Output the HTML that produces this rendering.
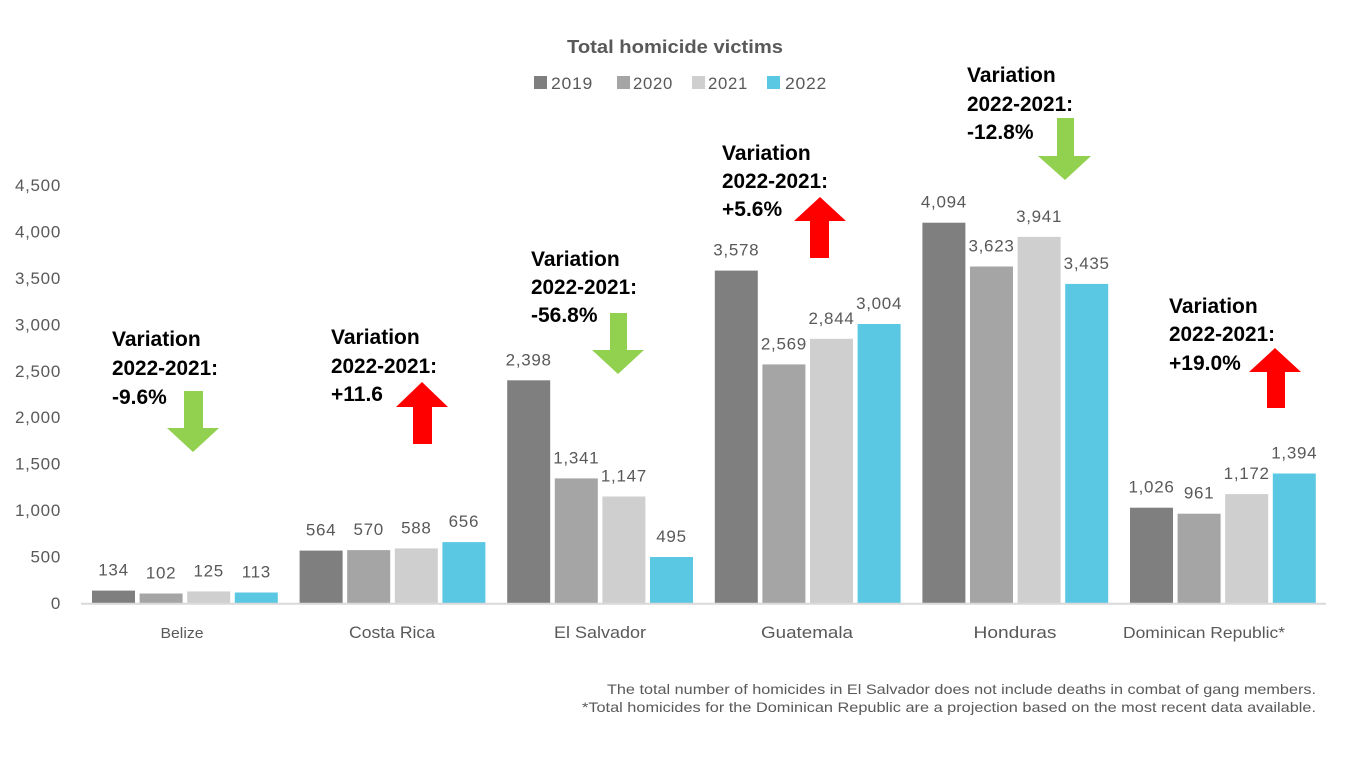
<!DOCTYPE html>
<html>
<head>
<meta charset="utf-8">
<style>
  html,body{margin:0;padding:0;background:#fff;}
  svg{display:block;}
  text{font-family:"Liberation Sans",Arial,sans-serif;}
  .lab{font-size:17px;fill:#595959;letter-spacing:0.7px;}
  .var{font-size:21px;font-weight:bold;fill:#000;}
  .cat{font-size:17px;fill:#595959;}
  .foot{font-size:14px;fill:#595959;}
</style>
</head>
<body>
<svg width="1353" height="760" viewBox="0 0 1353 760" xmlns="http://www.w3.org/2000/svg">
  <rect width="1353" height="760" fill="#fff"/>

  <!-- Title -->
  <text x="567" y="53" font-size="18" font-weight="bold" fill="#595959" textLength="216" lengthAdjust="spacingAndGlyphs">Total homicide victims</text>

  <!-- Legend -->
  <rect x="534" y="76" width="13" height="13" fill="#7f7f7f"/>
  <text x="551" y="89" class="lab" textLength="42" lengthAdjust="spacingAndGlyphs">2019</text>
  <rect x="617" y="76" width="13" height="13" fill="#a5a5a5"/>
  <text x="633" y="89" class="lab" textLength="40" lengthAdjust="spacingAndGlyphs">2020</text>
  <rect x="692" y="76" width="13" height="13" fill="#d0cfcf"/>
  <text x="708" y="89" class="lab" textLength="40" lengthAdjust="spacingAndGlyphs">2021</text>
  <rect x="767" y="76" width="13" height="13" fill="#5bc8e3"/>
  <text x="785" y="89" class="lab" textLength="42" lengthAdjust="spacingAndGlyphs">2022</text>

  <!-- Y axis labels -->
  <g class="lab" text-anchor="end">
    <text x="61" y="609">0</text>
    <text x="61" y="562.6">500</text>
    <text x="61" y="516.1">1,000</text>
    <text x="61" y="469.7">1,500</text>
    <text x="61" y="423.2">2,000</text>
    <text x="61" y="376.8">2,500</text>
    <text x="61" y="330.3">3,000</text>
    <text x="61" y="283.9">3,500</text>
    <text x="61" y="237.4">4,000</text>
    <text x="61" y="191">4,500</text>
  </g>

  <!-- Bars -->
  <g>
    <!-- Belize -->
    <rect x="92" y="590.6" width="43" height="12.4" fill="#7f7f7f"/>
    <rect x="139.6" y="593.5" width="43" height="9.5" fill="#a5a5a5"/>
    <rect x="187.2" y="591.4" width="43" height="11.6" fill="#d0cfcf"/>
    <rect x="234.8" y="592.5" width="43" height="10.5" fill="#5bc8e3"/>
    <!-- Costa Rica -->
    <rect x="299.6" y="550.6" width="43" height="52.4" fill="#7f7f7f"/>
    <rect x="347.2" y="550.1" width="43" height="52.9" fill="#a5a5a5"/>
    <rect x="394.8" y="548.4" width="43" height="54.6" fill="#d0cfcf"/>
    <rect x="442.4" y="542.1" width="43" height="60.9" fill="#5bc8e3"/>
    <!-- El Salvador -->
    <rect x="507.2" y="380.3" width="43" height="222.7" fill="#7f7f7f"/>
    <rect x="554.8" y="478.4" width="43" height="124.6" fill="#a5a5a5"/>
    <rect x="602.4" y="496.5" width="43" height="106.5" fill="#d0cfcf"/>
    <rect x="650" y="557" width="43" height="46" fill="#5bc8e3"/>
    <!-- Guatemala -->
    <rect x="714.8" y="270.6" width="43" height="332.4" fill="#7f7f7f"/>
    <rect x="762.4" y="364.4" width="43" height="238.6" fill="#a5a5a5"/>
    <rect x="810" y="338.8" width="43" height="264.2" fill="#d0cfcf"/>
    <rect x="857.6" y="324" width="43" height="279" fill="#5bc8e3"/>
    <!-- Honduras -->
    <rect x="922.4" y="222.7" width="43" height="380.3" fill="#7f7f7f"/>
    <rect x="970" y="266.5" width="43" height="336.5" fill="#a5a5a5"/>
    <rect x="1017.6" y="236.9" width="43" height="366.1" fill="#d0cfcf"/>
    <rect x="1065.2" y="283.9" width="43" height="319.1" fill="#5bc8e3"/>
    <!-- Dominican Republic -->
    <rect x="1130" y="507.7" width="43" height="95.3" fill="#7f7f7f"/>
    <rect x="1177.6" y="513.7" width="43" height="89.3" fill="#a5a5a5"/>
    <rect x="1225.2" y="494.1" width="43" height="108.9" fill="#d0cfcf"/>
    <rect x="1272.8" y="473.5" width="43" height="129.5" fill="#5bc8e3"/>
  </g>

  <!-- Axis line -->
  <line x1="81" y1="603.8" x2="1326" y2="603.8" stroke="#d9d9d9" stroke-width="2"/>

  <!-- Data labels -->
  <g class="lab" text-anchor="middle">
    <text x="113.5" y="575.6">134</text>
    <text x="161.1" y="578.5">102</text>
    <text x="208.7" y="576.4">125</text>
    <text x="256.3" y="577.5">113</text>

    <text x="321.1" y="535.6">564</text>
    <text x="368.7" y="535.1">570</text>
    <text x="416.3" y="533.4">588</text>
    <text x="463.9" y="527.1">656</text>

    <text x="528.7" y="365.3">2,398</text>
    <text x="576.3" y="463.4">1,341</text>
    <text x="623.9" y="481.5">1,147</text>
    <text x="671.5" y="542">495</text>

    <text x="736.3" y="255.6">3,578</text>
    <text x="783.9" y="349.4">2,569</text>
    <text x="831.5" y="323.8">2,844</text>
    <text x="879.1" y="309">3,004</text>

    <text x="943.9" y="207.7">4,094</text>
    <text x="991.5" y="251.5">3,623</text>
    <text x="1039.1" y="221.9">3,941</text>
    <text x="1086.7" y="268.9">3,435</text>

    <text x="1151.5" y="492.7">1,026</text>
    <text x="1199.1" y="498.7">961</text>
    <text x="1246.7" y="479.1">1,172</text>
    <text x="1294.3" y="458.5">1,394</text>
  </g>

  <!-- Category labels -->
  <g class="cat" text-anchor="middle">
    <text x="182" y="638" textLength="43" lengthAdjust="spacingAndGlyphs" font-size="15">Belize</text>
    <text x="392" y="638" textLength="86" lengthAdjust="spacingAndGlyphs">Costa Rica</text>
    <text x="600" y="638" textLength="92" lengthAdjust="spacingAndGlyphs">El Salvador</text>
    <text x="807" y="638" textLength="92" lengthAdjust="spacingAndGlyphs">Guatemala</text>
    <text x="1015" y="638" textLength="83" lengthAdjust="spacingAndGlyphs">Honduras</text>
    <text x="1204" y="638" textLength="162" lengthAdjust="spacingAndGlyphs" font-size="16">Dominican Republic*</text>
  </g>

  <!-- Variation annotations -->
  <g class="var">
    <text x="112" y="346">Variation</text>
    <text x="112" y="375" textLength="106" lengthAdjust="spacingAndGlyphs">2022-2021:</text>
    <text x="112" y="404">-9.6%</text>

    <text x="331" y="344">Variation</text>
    <text x="331" y="373" textLength="106" lengthAdjust="spacingAndGlyphs">2022-2021:</text>
    <text x="331" y="401">+11.6</text>

    <text x="531" y="266">Variation</text>
    <text x="531" y="294" textLength="106" lengthAdjust="spacingAndGlyphs">2022-2021:</text>
    <text x="531" y="322">-56.8%</text>

    <text x="722" y="160">Variation</text>
    <text x="722" y="188" textLength="106" lengthAdjust="spacingAndGlyphs">2022-2021:</text>
    <text x="722" y="216">+5.6%</text>

    <text x="967" y="82">Variation</text>
    <text x="967" y="111" textLength="106" lengthAdjust="spacingAndGlyphs">2022-2021:</text>
    <text x="967" y="139">-12.8%</text>

    <text x="1169" y="313">Variation</text>
    <text x="1169" y="341" textLength="106" lengthAdjust="spacingAndGlyphs">2022-2021:</text>
    <text x="1169" y="370">+19.0%</text>
  </g>

  <!-- Arrows: green down -->
  <polygon fill="#92d050" points="184,391 203,391 203,428 219,428 193,452 167,428 184,428"/>
  <polygon fill="#92d050" points="610,313 627,313 627,350 644,350 618,374 592,350 610,350"/>
  <polygon fill="#92d050" points="1057,118 1074,118 1074,156 1091,156 1065,180 1038,156 1057,156"/>

  <!-- Arrows: red up -->
  <polygon fill="#ff0000" points="422,382 448,407 432,407 432,444 413,444 413,407 396,407"/>
  <polygon fill="#ff0000" points="820,197 846,221 829,221 829,258 810,258 810,221 794,221"/>
  <polygon fill="#ff0000" points="1275,348 1301,372 1285,372 1285,408 1267,408 1267,372 1249,372"/>

  <!-- Footnotes -->
  <g class="foot" text-anchor="end">
    <text x="1316" y="694" textLength="709" lengthAdjust="spacingAndGlyphs">The total number of homicides in El Salvador does not include deaths in combat of gang members.</text>
    <text x="1316" y="712" textLength="734" lengthAdjust="spacingAndGlyphs">*Total homicides for the Dominican Republic are a projection based on the most recent data available.</text>
  </g>
</svg>
</body>
</html>
